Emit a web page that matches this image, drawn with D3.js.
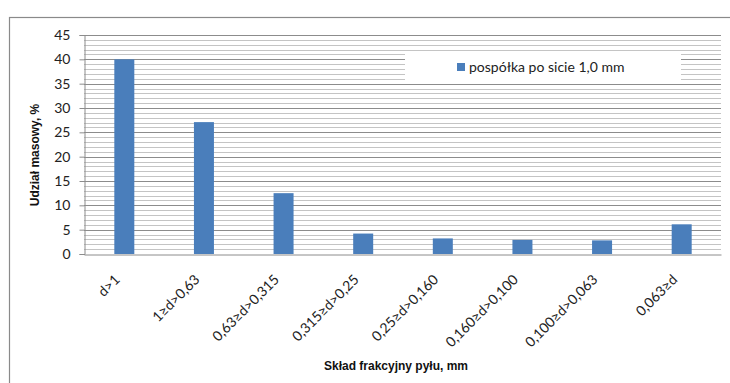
<!DOCTYPE html>
<html>
<head>
<meta charset="utf-8">
<script src="https://cdn.jsdelivr.net/npm/d3@7"></script>
<style>
  html, body { margin: 0; padding: 0; background: #fff; }
  svg { display: block; }
</style>
</head>
<body>
<svg id="chart" width="730" height="383"></svg>
<script>
// Fractions of dust and their mass shares
const categories = ["d>1", "1≥d>0,63", "0,63≥d>0,315", "0,315≥d>0,25", "0,25≥d>0,160", "0,160≥d>0,100", "0,100≥d>0,063", "0,063≥d"];
const values = [40, 27.1, 12.5, 4.2, 3.2, 2.9, 2.8, 6.1];
const seriesName = "pospółka po sicie 1,0 mm";
const yTicks = [0, 5, 10, 15, 20, 25, 30, 35, 40, 45];
const yMinor = d3.range(0, 46, 1);
const yTitle = "Udział masowy, %";
const xTitle = "Skład frakcyjny pyłu, mm";

const svg = d3.select("#chart");
const W = 730, H = 383;
const plot = { left: 84, right: 721, top: 35, bottom: 254 };
const labelFont = "Lato, 'Open Sans', sans-serif";
const titleFont = "'Liberation Sans', Arial, sans-serif";
const barColor = "#4a7ebb";

// chart frame
svg.append("rect")
  .attr("x", 9.5).attr("y", 17.5)
  .attr("width", W + 20).attr("height", H + 20)
  .attr("fill", "#fff").attr("stroke", "#8a8a8a").attr("stroke-width", 1.2);

const x = d3.scaleBand().domain(categories).range([plot.left, plot.right]).paddingInner(0).paddingOuter(0);
const y = d3.scaleLinear().domain([0, 45]).range([plot.bottom, plot.top]);
const barW = 20;

// minor gridlines
svg.append("g").selectAll("line")
  .data(yMinor.filter(v => v % 5 !== 0))
  .join("line")
  .attr("x1", plot.left).attr("x2", plot.right)
  .attr("y1", d => Math.round(y(d)) + 0.5).attr("y2", d => Math.round(y(d)) + 0.5)
  .attr("stroke", "#c4c4c4").attr("stroke-width", 1);

// major gridlines
svg.append("g").selectAll("line")
  .data(yTicks.filter(v => v > 0))
  .join("line")
  .attr("x1", plot.left).attr("x2", plot.right)
  .attr("y1", d => Math.round(y(d)) + 0.5).attr("y2", d => Math.round(y(d)) + 0.5)
  .attr("stroke", "#8c8c8c").attr("stroke-width", 1);

// y axis
const yAxis = svg.append("g")
  .attr("transform", `translate(${plot.left + 0.5},0)`)
  .call(d3.axisLeft(y).tickValues(yTicks).tickSize(5).tickPadding(9).tickFormat(d3.format("d")));
yAxis.select(".domain").attr("stroke", "#8c8c8c");
yAxis.selectAll(".tick line").attr("stroke", "#8c8c8c");
yAxis.selectAll(".tick text")
  .attr("font-family", labelFont).attr("font-size", 14).attr("fill", "#222");

// bars
svg.append("g").selectAll("rect")
  .data(values)
  .join("rect")
  .attr("x", (d, i) => x(categories[i]) + x.bandwidth() / 2 - barW / 2 + 0.5)
  .attr("width", barW)
  .attr("y", d => y(d))
  .attr("height", d => y(0) - y(d))
  .attr("fill", barColor);

// x axis with slanted category labels
const xAxis = svg.append("g")
  .attr("transform", `translate(0,${Math.round(y(0)) + 0.5})`)
  .call(d3.axisBottom(x).tickSize(0).tickPadding(0));
xAxis.select(".domain").attr("stroke", "#8c8c8c");
xAxis.selectAll(".tick text")
  .attr("font-family", labelFont).attr("font-size", 14).attr("fill", "#222")
  .attr("text-anchor", "end")
  .attr("dy", 0)
  .attr("transform", "translate(-3,26) rotate(-45)");

// legend
const legend = svg.append("g");
legend.append("rect")
  .attr("x", 405).attr("y", 52).attr("width", 276).attr("height", 30)
  .attr("fill", "#fff");
legend.append("rect")
  .attr("x", 457).attr("y", 63).attr("width", 8).attr("height", 8)
  .attr("fill", barColor);
legend.append("text")
  .attr("x", 469).attr("y", 72)
  .attr("font-family", labelFont).attr("font-size", 14).attr("fill", "#222")
  .text(seriesName);

// axis titles
svg.append("text")
  .attr("x", 396).attr("y", 370)
  .attr("text-anchor", "middle")
  .attr("font-family", titleFont).attr("font-size", 12).attr("font-weight", "bold")
  .attr("fill", "#111")
  .text(xTitle);

svg.append("text")
  .attr("transform", "translate(39,155) rotate(-90)")
  .attr("text-anchor", "middle")
  .attr("font-family", titleFont).attr("font-size", 12).attr("font-weight", "bold")
  .attr("fill", "#111")
  .text(yTitle);
</script>
</body>
</html>
